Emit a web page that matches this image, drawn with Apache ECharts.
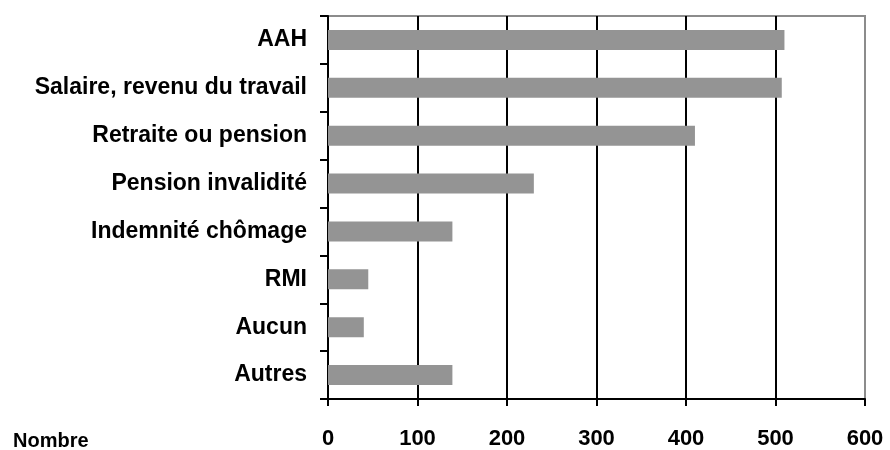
<!DOCTYPE html>
<html>
<head>
<meta charset="utf-8">
<script src="https://cdn.jsdelivr.net/npm/echarts@6/dist/echarts.min.js"></script>
<style>
  html, body { margin: 0; padding: 0; background: #fff; }
  #chart { width: 890px; height: 450px; }
</style>
</head>
<body>
<div id="chart"></div>
<script>
// Sources de revenus (nombre de personnes)
const categories = [
  'AAH',
  'Salaire, revenu du travail',
  'Retraite ou pension',
  'Pension invalidité',
  'Indemnité chômage',
  'RMI',
  'Aucun',
  'Autres'
];
const values = [510, 507, 410, 230, 139, 45, 40, 139];
const xTicks = [0, 100, 200, 300, 400, 500, 600];

const FONT = '"Liberation Sans", Arial, sans-serif';
const chart = echarts.init(document.getElementById('chart'));

chart.setOption({
  animation: false,
  backgroundColor: '#ffffff',
  grid: {
    left: 328, right: 25, top: 16, bottom: 49,
    show: true,
    borderColor: '#8c8c8c',
    borderWidth: 2
  },
  xAxis: {
    type: 'value',
    min: xTicks[0],
    max: xTicks[xTicks.length - 1],
    interval: 100,
    axisLine: { show: true, lineStyle: { color: '#000', width: 2 } },
    axisTick: { show: true, length: 7, lineStyle: { color: '#000', width: 2 } },
    axisLabel: {
      margin: 29,
      color: '#000',
      fontFamily: FONT,
      fontWeight: 'bold',
      fontSize: 22
    },
    splitLine: {
      show: true,
      lineStyle: {
        color: ['#000', '#000', '#000', '#000', '#000', '#000', '#8c8c8c'],
        width: 2
      }
    }
  },
  yAxis: {
    type: 'category',
    data: categories,
    inverse: true,
    axisLine: { show: true, lineStyle: { color: '#000', width: 2 } },
    axisTick: { show: true, length: 8, lineStyle: { color: '#000', width: 2 } },
    axisLabel: {
      margin: 21,
      color: '#000',
      fontFamily: FONT,
      fontWeight: 'bold',
      fontSize: 23
    },
    splitLine: { show: false }
  },
  graphic: [{
    type: 'text',
    left: 13,
    top: 431,
    style: {
      text: 'Nombre',
      fill: '#000',
      font: 'bold 20px ' + FONT
    }
  }],
  series: [{
    type: 'bar',
    data: values,
    barCategoryGap: '58%',
    itemStyle: { color: '#949494' },
    z: 1
  }]
});
</script>
</body>
</html>
